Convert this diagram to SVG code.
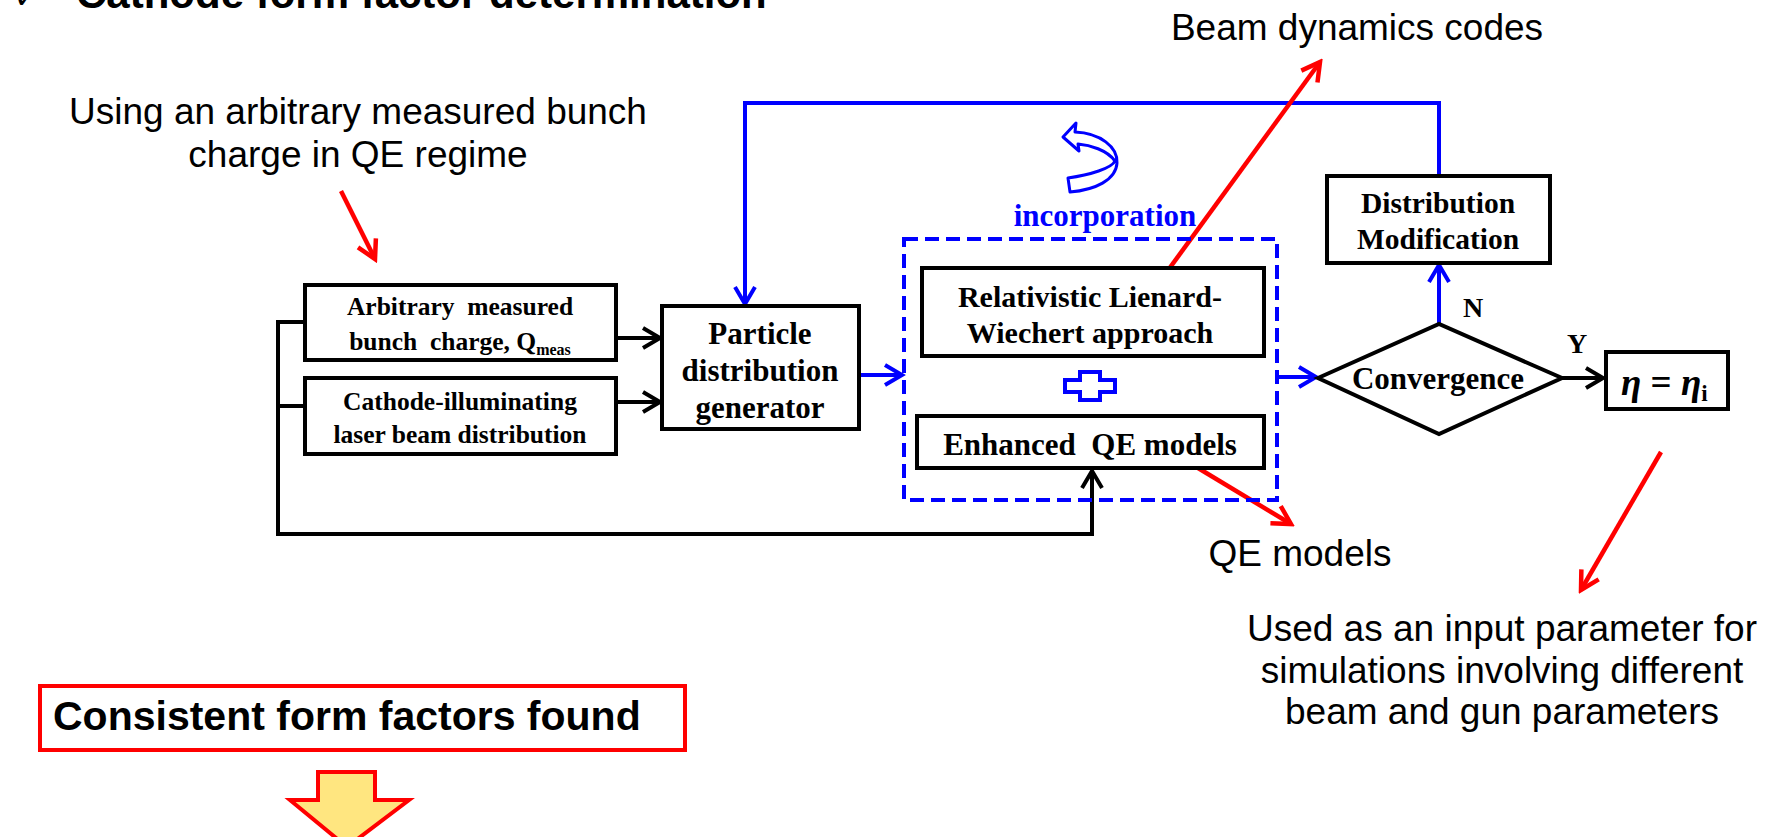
<svg xmlns="http://www.w3.org/2000/svg" width="1780" height="837" viewBox="0 0 1780 837">
<style>
.box{fill:#fff;stroke:#000;stroke-width:4}
.bt{font-family:"Liberation Serif","Times New Roman",serif;font-weight:bold;fill:#000;text-anchor:middle;white-space:pre}
.ann{font-family:"Liberation Sans",Arial,sans-serif;font-size:37px;fill:#000;text-anchor:middle}
.k{fill:none;stroke:#000;stroke-width:4}
.b{fill:none;stroke:#0000ff;stroke-width:4}
.r{fill:none;stroke:#ff0000;stroke-width:4.5}
</style>
<defs>
<marker id="ak" markerUnits="userSpaceOnUse" markerWidth="26" markerHeight="26" viewBox="0 0 26 26" refX="22" refY="13" orient="auto"><path d="M5,3 L22,13 L5,23" fill="none" stroke="#000" stroke-width="4"/></marker>
<marker id="ab" markerUnits="userSpaceOnUse" markerWidth="26" markerHeight="26" viewBox="0 0 26 26" refX="22" refY="13" orient="auto"><path d="M5,3 L22,13 L5,23" fill="none" stroke="#0000ff" stroke-width="4"/></marker>
<marker id="ar" markerUnits="userSpaceOnUse" markerWidth="28" markerHeight="28" viewBox="0 0 28 28" refX="24" refY="14" orient="auto"><path d="M6,4 L24,14 L6,24" fill="none" stroke="#ff0000" stroke-width="4.5"/></marker>
</defs>

<g id="title">
<text x="14" y="8" font-family="DejaVu Sans,sans-serif" font-size="30" fill="#000">✓</text>
<text x="76" y="8" font-family="Liberation Sans,Arial,sans-serif" font-weight="bold" font-size="42" fill="#000">Cathode form factor determination</text>
</g>

<g id="connectors">
<path class="k" d="M305,322 H278 V534 H1092 V471" marker-end="url(#ak)"/>
<path class="k" d="M278,406 H305"/>
<path class="k" d="M616,338 H660" marker-end="url(#ak)"/>
<path class="k" d="M616,402 H660" marker-end="url(#ak)"/>
<path class="b" d="M1439,176 V103 H745 V304" marker-end="url(#ab)"/>
<path class="b" d="M859,375 H902" marker-end="url(#ab)"/>
<path class="b" d="M1277,377 H1316" marker-end="url(#ab)"/>
<path class="b" d="M1439,324 V265" marker-end="url(#ab)"/>
<path class="k" d="M1562,378 H1603" marker-end="url(#ak)"/>
</g>

<g id="annotations">
<path class="r" d="M341,191 L375,259" marker-end="url(#ar)"/>
<path class="r" d="M1158,284 L1320,62" marker-end="url(#ar)"/>
<path class="r" d="M1198,468 L1291,524" marker-end="url(#ar)"/>
<path class="r" d="M1661,452 L1581,590" marker-end="url(#ar)"/>
<text class="ann" x="358" y="124">Using an arbitrary measured bunch</text>
<text class="ann" x="358" y="167">charge in QE regime</text>
<text class="ann" x="1357" y="40">Beam dynamics codes</text>
<text class="ann" x="1300" y="566">QE models</text>
<text class="ann" x="1502" y="641">Used as an input parameter for</text>
<text class="ann" x="1502" y="683">simulations involving different</text>
<text class="ann" x="1502" y="724">beam and gun parameters</text>
</g>

<g id="node-arbitrary">
<rect class="box" x="305" y="285" width="311" height="75"/>
<text class="bt" x="460" y="315" font-size="25.5" xml:space="preserve">Arbitrary  measured</text>
<text class="bt" x="460" y="350" font-size="25.5" xml:space="preserve">bunch  charge, Q<tspan font-size="16" dy="5">meas</tspan></text>
</g>

<g id="node-cathode">
<rect class="box" x="305" y="378" width="311" height="76"/>
<text class="bt" x="460" y="410" font-size="25.5">Cathode-illuminating</text>
<text class="bt" x="460" y="443" font-size="25.5">laser beam distribution</text>
</g>

<g id="node-particle">
<rect class="box" x="662" y="306" width="197" height="123"/>
<text class="bt" x="760" y="344" font-size="31">Particle</text>
<text class="bt" x="760" y="381" font-size="31">distribution</text>
<text class="bt" x="760" y="418" font-size="31">generator</text>
</g>

<g id="incorporation">
<rect x="904" y="239" width="373" height="261" fill="none" stroke="#0000ff" stroke-width="4" stroke-dasharray="14 7"/>
<text x="1105" y="226" font-family="Liberation Serif,Times New Roman,serif" font-weight="bold" font-size="31" fill="#0000ff" text-anchor="middle">incorporation</text>
<path d="M1063,137 L1076,123 L1075,132 C1100,133 1118,147 1117,163 C1116,180 1095,190 1070,192 L1068,178 C1090,175 1112,168 1115,161 C1107,150 1090,145 1078,144 L1079,151 Z" fill="#fff" stroke="#0000ff" stroke-width="3" stroke-linejoin="round"/>
<path d="M1080,372 H1100 V380 H1115 V392 H1100 V400 H1080 V392 H1065 V380 H1080 Z" fill="#fff" stroke="#0000ff" stroke-width="4"/>
</g>

<g id="node-lienard">
<rect class="box" x="922" y="268" width="342" height="88"/>
<text class="bt" x="1090" y="307" font-size="30">Relativistic Lienard-</text>
<text class="bt" x="1090" y="343" font-size="30">Wiechert approach</text>
</g>

<g id="node-qe">
<rect class="box" x="917" y="416" width="347" height="52"/>
<text class="bt" x="1090" y="455" font-size="31" xml:space="preserve">Enhanced  QE models</text>
</g>

<g id="node-convergence">
<polygon points="1318,378 1439,324 1562,378 1439,434" fill="#fff" stroke="#000" stroke-width="4"/>
<text class="bt" x="1438" y="389" font-size="31">Convergence</text>
<text class="bt" x="1473" y="317" font-size="28" text-anchor="start">N</text>
<text class="bt" x="1577" y="353" font-size="28" text-anchor="middle">Y</text>
</g>

<g id="node-distmod">
<rect class="box" x="1327" y="176" width="223" height="87"/>
<text class="bt" x="1438" y="213" font-size="29.5">Distribution</text>
<text class="bt" x="1438" y="249" font-size="29.5">Modification</text>
</g>

<g id="node-eta">
<rect class="box" x="1606" y="352" width="122" height="57"/>
<text x="1621" y="395" font-family="Liberation Serif,Times New Roman,serif" font-weight="bold" font-size="37" fill="#000"><tspan font-style="italic">η</tspan> = <tspan font-style="italic">η</tspan><tspan font-size="23" dy="6">i</tspan></text>
</g>

<g id="node-consistent">
<rect x="40" y="686" width="645" height="64" fill="#fff" stroke="#ff0000" stroke-width="4"/>
<text x="53" y="730" font-family="Liberation Sans,Arial,sans-serif" font-weight="bold" font-size="41" fill="#000">Consistent form factors found</text>
</g>

<g id="down-arrow">
<polygon points="318,772 375,772 375,800 409,800 347,847 290,800 318,800" fill="#FFE680" stroke="#ff0000" stroke-width="4"/>
</g>
</svg>
